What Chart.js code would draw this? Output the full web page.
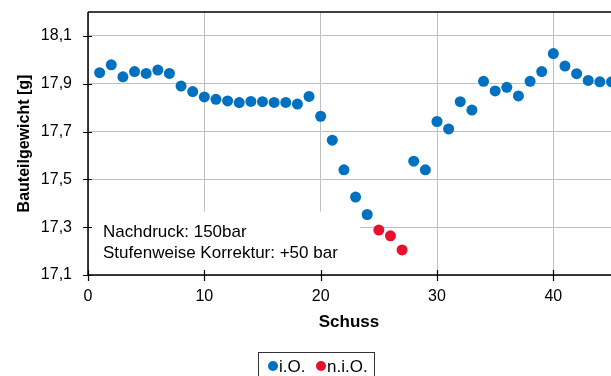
<!DOCTYPE html>
<html>
<head>
<meta charset="utf-8">
<script src="https://cdn.jsdelivr.net/npm/chart.js@4/dist/chart.umd.min.js"></script>
<style>
  html, body { margin: 0; padding: 0; background: #fff; overflow: hidden; }
  #wrap { width: 611px; height: 376px; position: relative; overflow: hidden; }
</style>
</head>
<body>
<div id="wrap"><canvas id="c" width="617" height="376"></canvas></div>
<script>
// Schuss 1..45, Bauteilgewicht [g]
const okShots = [1, 2, 3, 4, 5, 6, 7, 8, 9, 10, 11, 12, 13, 14, 15, 16, 17, 18, 19, 20, 21, 22, 23, 24,
  28, 29, 30, 31, 32, 33, 34, 35, 36, 37, 38, 39, 40, 41, 42, 43, 44, 45];
const okWeights = [17.946, 17.979, 17.929, 17.951, 17.943, 17.957, 17.943, 17.890, 17.867, 17.845,
  17.835, 17.828, 17.821, 17.826, 17.825, 17.822, 17.822, 17.815, 17.847, 17.764, 17.664, 17.540,
  17.426, 17.353,
  17.576, 17.540, 17.742, 17.711, 17.825, 17.790, 17.910, 17.870, 17.885, 17.849, 17.910, 17.951,
  18.026, 17.974, 17.942, 17.914, 17.908, 17.908];
const nokShots = [25, 26, 27];
const nokWeights = [17.288, 17.264, 17.205];

const yTicks = [17.1, 17.3, 17.5, 17.7, 17.9, 18.1];
const xTicks = [0, 10, 20, 30, 40];
const noteLines = ['Nachdruck: 150bar', 'Stufenweise Korrektur: +50 bar'];

const BLUE = '#0070C0';
const RED = '#E8112D';
const FONT = 'Liberation Sans, Arial, sans-serif';

const toPoints = (xs, ys) => xs.map((x, i) => ({ x, y: ys[i] }));

// white note box over the grid, before points
const noteBox = {
  id: 'noteBox',
  beforeDatasetsDraw(chart) {
    const { ctx, scales: { x, y } } = chart;
    ctx.save();
    ctx.fillStyle = '#fff';
    const left = x.getPixelForValue(0) + 1;
    const right = x.getPixelForValue(23.4);
    const top = y.getPixelForValue(17.365);
    ctx.fillRect(left, top, right - left, y.getPixelForValue(17.1) - top - 1);
    ctx.fillStyle = '#000';
    ctx.font = '17px ' + FONT;
    ctx.textBaseline = 'middle';
    ctx.fillText(noteLines[0], 103, 232);
    ctx.fillText(noteLines[1], 103, 253);
    ctx.restore();
  },
};

// axes lines, crossing ticks, titles and legend
const frame = {
  id: 'frame',
  afterDraw(chart) {
    const { ctx, chartArea: a, scales: { x, y } } = chart;
    ctx.save();
    ctx.strokeStyle = '#000';
    ctx.lineWidth = 1.5;
    ctx.beginPath();
    ctx.moveTo(a.left, a.top);
    ctx.lineTo(a.right, a.top);
    ctx.moveTo(a.left, a.top);
    ctx.lineTo(a.left, a.bottom);
    ctx.lineTo(a.right, a.bottom);
    ctx.stroke();
    ctx.lineWidth = 1.2;
    ctx.beginPath();
    yTicks.forEach(v => {
      const py = Math.round(y.getPixelForValue(v)) + 0.5;
      ctx.moveTo(a.left - 5, py);
      ctx.lineTo(a.left + 4, py);
    });
    xTicks.forEach(v => {
      const px = Math.round(x.getPixelForValue(v)) + 0.5;
      ctx.moveTo(px, a.bottom - 5);
      ctx.lineTo(px, a.bottom + 6);
    });
    ctx.stroke();

    // axis titles
    ctx.fillStyle = '#000';
    ctx.textAlign = 'center';
    ctx.textBaseline = 'middle';
    ctx.font = 'bold 17px ' + FONT;
    ctx.fillText('Schuss', 349, 322);
    ctx.save();
    ctx.font = 'bold 16px ' + FONT;
    ctx.translate(25, (a.top + a.bottom) / 2);
    ctx.rotate(-Math.PI / 2);
    ctx.fillText('Bauteilgewicht [g]', 0, 0);
    ctx.restore();

    // legend
    ctx.strokeStyle = '#333';
    ctx.lineWidth = 1;
    ctx.strokeRect(258.5, 352.5, 116, 30);
    ctx.font = '17px ' + FONT;
    ctx.textAlign = 'left';
    ctx.fillStyle = BLUE;
    ctx.beginPath();
    ctx.arc(273, 366, 5, 0, Math.PI * 2);
    ctx.fill();
    ctx.fillStyle = RED;
    ctx.beginPath();
    ctx.arc(321, 366, 5, 0, Math.PI * 2);
    ctx.fill();
    ctx.fillStyle = '#000';
    ctx.fillText('i.O.', 279, 367);
    ctx.fillText('n.i.O.', 327, 367);
    ctx.restore();
  },
};

new Chart(document.getElementById('c'), {
  type: 'scatter',
  data: {
    datasets: [
      { label: 'i.O.', data: toPoints(okShots, okWeights), backgroundColor: BLUE, borderWidth: 0, pointRadius: 5.5 },
      { label: 'n.i.O.', data: toPoints(nokShots, nokWeights), backgroundColor: RED, borderWidth: 0, pointRadius: 5.5 },
    ],
  },
  options: {
    responsive: false,
    animation: false,
    layout: { padding: { top: 12, right: 0, left: 0, bottom: 0 } },
    plugins: { legend: { display: false }, tooltip: { enabled: false } },
    scales: {
      x: {
        type: 'linear',
        min: 0,
        max: 45,
        afterBuildTicks: s => { s.ticks = xTicks.map(v => ({ value: v })); },
        afterFit: s => { s.height = 101; s.paddingLeft = 0; s.paddingRight = 0; },
        grid: { color: '#BFBFBF', lineWidth: 1, drawTicks: false },
        border: { display: false },
        ticks: { color: '#000', font: { size: 16, family: FONT }, padding: 12, maxRotation: 0 },
      },
      y: {
        min: 17.1,
        max: 18.2,
        afterBuildTicks: s => { s.ticks = yTicks.map(v => ({ value: v })); },
        afterFit: s => { s.width = 88; s.paddingTop = 0; s.paddingBottom = 0; },
        grid: { color: '#BFBFBF', lineWidth: 1, drawTicks: false },
        border: { display: false },
        ticks: {
          color: '#000',
          font: { size: 16, family: FONT },
          padding: 16,
          callback: v => v.toFixed(1).replace('.', ','),
        },
      },
    },
  },
  plugins: [noteBox, frame],
});
</script>
</body>
</html>
